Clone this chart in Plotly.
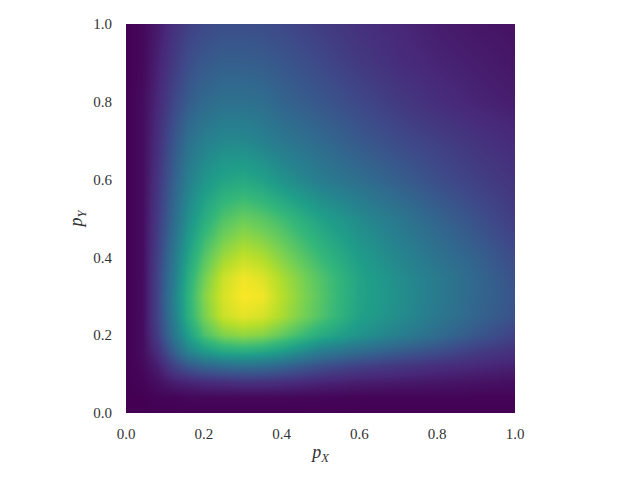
import plotly.graph_objects as go

# grid of the probability plane
p_x = [0, 0.04, 0.08, 0.12, 0.16, 0.2, 0.25, 0.3, 0.35, 0.4, 0.5, 0.6, 0.7, 0.8, 0.9, 1]
p_y = [0, 0.04, 0.08, 0.12, 0.16, 0.2, 0.25, 0.3, 0.35, 0.4, 0.5, 0.6, 0.7, 0.8, 0.9, 1]

# one row per p_y value, normalised colour level
density = [
    [0, 0, 0, 0, 0, 0, 0, 0, 0, 0, 0, 0, 0, 0, 0, 0],
    [0, 0, .01, .01, .02, .02, .02, .02, .02, .02, .015, .01, .01, .01, .01, .01],
    [0, .01, .04, .08, .10, .12, .13, .14, .14, .13, .10, .08, .07, .06, .05, .04],
    [0, .02, .08, .19, .27, .32, .35, .36, .35, .32, .24, .19, .16, .13, .11, .09],
    [0, .03, .13, .30, .45, .54, .60, .62, .60, .55, .42, .35, .29, .24, .18, .14],
    [0, .03, .18, .38, .56, .71, .80, .83, .81, .75, .61, .51, .43, .35, .27, .20],
    [0, .03, .20, .42, .63, .79, .92, .96, .94, .87, .72, .57, .49, .40, .32, .25],
    [0, .03, .20, .43, .64, .81, .94, .995, .98, .89, .73, .58, .50, .41, .33, .26],
    [0, .03, .20, .41, .62, .78, .92, .98, .95, .87, .72, .58, .49, .41, .33, .25],
    [0, .03, .19, .39, .58, .73, .85, .91, .88, .81, .67, .55, .46, .38, .31, .23],
    [0, .03, .17, .34, .50, .62, .72, .77, .74, .69, .57, .48, .40, .32, .25, .18],
    [0, .03, .15, .30, .43, .52, .58, .60, .57, .51, .42, .36, .30, .24, .19, .15],
    [0, .03, .13, .26, .37, .43, .47, .47, .44, .40, .34, .28, .23, .19, .15, .12],
    [0, .03, .11, .21, .29, .34, .37, .37, .36, .32, .27, .22, .17, .13, .10, .08],
    [0, .02, .09, .17, .24, .28, .30, .30, .29, .27, .22, .17, .13, .10, .08, .06],
    [0, .02, .07, .14, .19, .22, .24, .24, .235, .22, .18, .14, .11, .08, .06, .05],
]

tick_vals = [0, 0.2, 0.4, 0.6, 0.8, 1]
tick_text = ["0.0", "0.2", "0.4", "0.6", "0.8", "1.0"]

fig = go.Figure(
    go.Heatmap(
        x=p_x, y=p_y, z=density,
        colorscale="Viridis", zmin=0, zmax=1,
        zsmooth="best", showscale=False,
    )
)

axis_style = dict(
    range=[0, 1], tickvals=tick_vals, ticktext=tick_text,
    showgrid=False, zeroline=False, showline=False,
    ticks="outside", tickcolor="white",
    tickfont=dict(family="Liberation Serif", size=15, color="#333333"),
)
title_font = dict(family="Liberation Serif", size=18, color="#333333")

fig.update_layout(
    width=640, height=480, autosize=False,
    margin=dict(l=126, r=125, t=24, b=67),
    paper_bgcolor="white", plot_bgcolor="white",
    xaxis=dict(title=dict(text="<i>p<sub>X</sub></i>", standoff=4, font=title_font),
               ticklen=7, **axis_style),
    yaxis=dict(title=dict(text="<i>p<sub>Y</sub></i>", standoff=5, font=title_font),
               ticklen=10, **axis_style),
)

fig.write_html("out.html", config={"displayModeBar": False},
               post_script="document.body.style.margin='0';")
